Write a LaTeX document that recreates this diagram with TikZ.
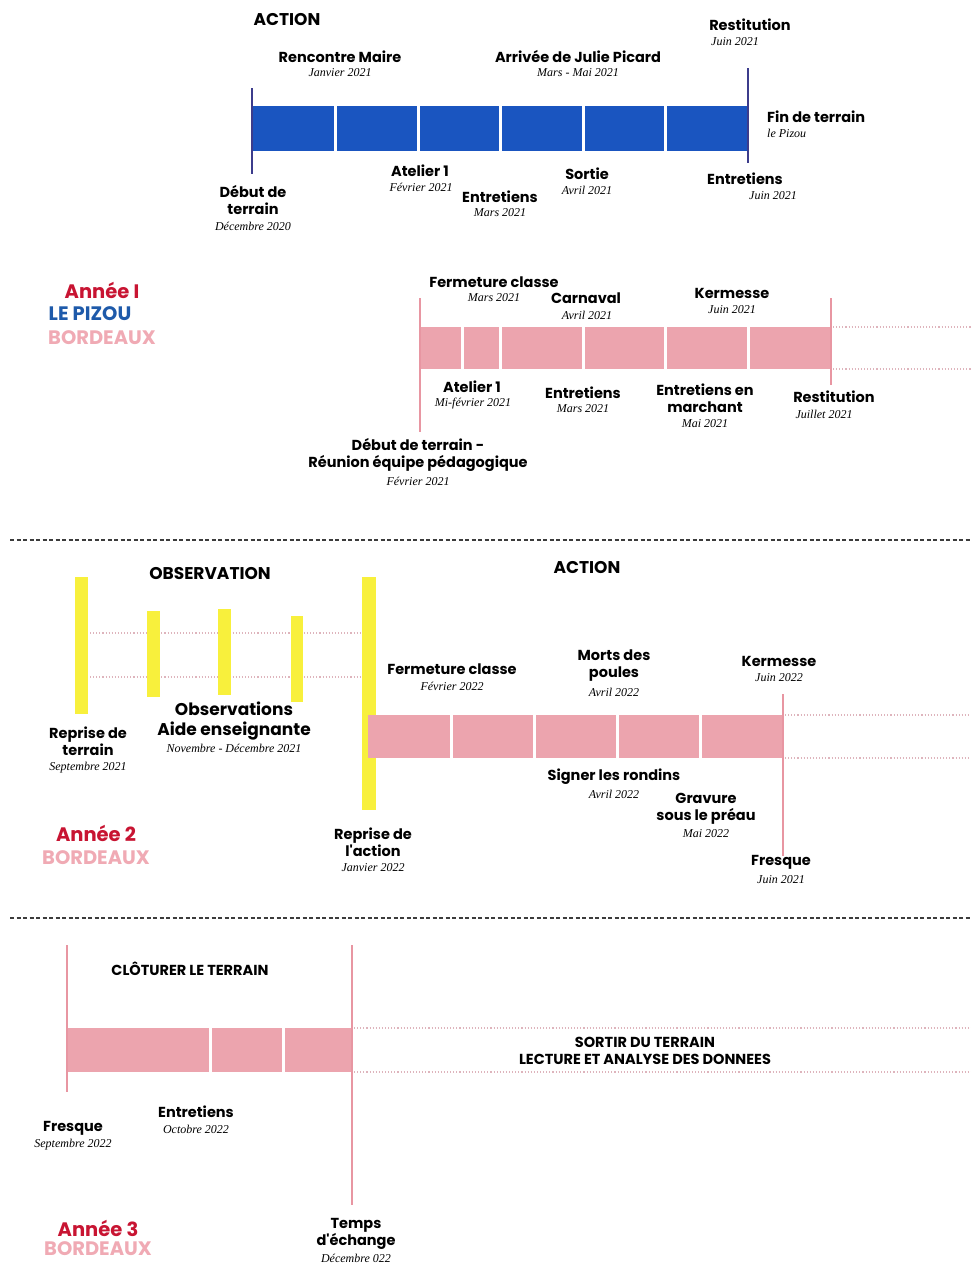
\documentclass[tikz,border=0pt]{standalone}
\usepackage{fontspec}
\newfontfamily\labfont{Poppins}
\newfontfamily\datefont{Liberation Serif}
\definecolor{blueBar}{RGB}{26,85,192}
\definecolor{blueLine}{RGB}{60,60,140}
\definecolor{pinkBar}{RGB}{236,164,174}
\definecolor{pinkLine}{RGB}{232,150,162}
\definecolor{yel}{RGB}{248,240,60}
\definecolor{anred}{RGB}{200,20,50}
\definecolor{pizou}{RGB}{30,90,170}
\definecolor{bdx}{RGB}{240,170,180}
\definecolor{dotc}{RGB}{222,180,188}
\definecolor{sep}{RGB}{60,60,60}
\tikzset{
  lab/.style={font=\labfont\bfseries\fontsize{14.5}{17}\selectfont, inner sep=0pt, align=center},
  head/.style={font=\labfont\bfseries\fontsize{17}{19}\selectfont, inner sep=0pt},
  capstext/.style={font=\labfont\bfseries\fontsize{14.5}{17}\selectfont, inner sep=0pt, align=center},
  dt/.style={font=\datefont\itshape\fontsize{12}{14}\selectfont, inner sep=0pt},
  yr/.style={font=\labfont\bfseries\fontsize{19.5}{22}\selectfont, inner sep=0pt},
  divider/.style={white, line width=3pt},
  dotline/.style={dotc, dotted, line width=1.1pt},
  sepline/.style={sep, dash pattern=on 4pt off 2.5pt, line width=1.5pt},
  tick/.style={line width=1.2pt},
  ybar/.style={fill=yel, draw=none}
}
\begin{document}
\begin{tikzpicture}[x=1pt,y=-1pt]
\useasboundingbox[fill=white] (0,0) rectangle (971,1266);

% ---------------- Section 1 : Le Pizou (blue) ----------------
\fill[blueBar] (252,106) rectangle (748,151);
\foreach \x in {335,418,500,583,665} \draw[divider] (\x,106) -- (\x,151);
\draw[tick, blueLine] (252,88) -- (252,174);
\draw[tick, blueLine] (748,68) -- (748,163);

\node[head] (act1) at (287,20) {ACTION};
\node[lab] (rm) at (340,57) {Rencontre Maire};
\node[dt] (rmd) at (340,73) {Janvier 2021};
\node[lab] (jp) at (578,57) {Arrivée de Julie Picard};
\node[dt] (jpd) at (578,73) {Mars - Mai 2021};
\node[lab] (rest1) at (750,25) {Restitution};
\node[dt] (rest1d) at (735,42) {Juin 2021};
\node[lab, anchor=west] (fin) at (767,117) {Fin de terrain};
\node[dt, anchor=west] (find) at (767,133) {le Pizou};
\node[lab] (at1) at (420,171) {Atelier 1};
\node[dt] (at1d) at (421,187) {Février 2021};
\node[lab] (ent1) at (500,197) {Entretiens};
\node[dt] (ent1d) at (500,213) {Mars 2021};
\node[lab] (sor) at (587,174) {Sortie};
\node[dt] (sord) at (587,190) {Avril 2021};
\node[lab] (ent2) at (745,179) {Entretiens};
\node[dt] (ent2d) at (773,196) {Juin 2021};
\node[lab] (deb1) at (253,200.5) {Début de\\terrain};
\node[dt] (deb1d) at (253,226) {Décembre 2020};

% ---------------- Section 2 : Année I ----------------
\node[yr, text=anred] (an1) at (102,290) {Année I};
\node[yr, text=pizou] (piz) at (90,314) {LE PIZOU};
\node[yr, text=bdx] (bdx1) at (102,338) {BORDEAUX};

\fill[pinkBar] (420,327) rectangle (831,369);
\foreach \x in {462,500,583,665,748} \draw[divider] (\x,327) -- (\x,369);
\draw[tick, pinkLine] (420,298) -- (420,432);
\draw[tick, pinkLine] (831,298) -- (831,385);
\draw[dotline] (833,327) -- (971,327);
\draw[dotline] (833,369) -- (971,369);

\node[lab] (fc1) at (494,282) {Fermeture classe};
\node[dt] (fc1d) at (494,298) {Mars 2021};
\node[lab] (carn) at (586,298) {Carnaval};
\node[dt] (carnd) at (587,315) {Avril 2021};
\node[lab] (ker1) at (732,293) {Kermesse};
\node[dt] (ker1d) at (732,310) {Juin 2021};
\node[lab] (at2) at (472,387) {Atelier 1};
\node[dt] (at2d) at (473,404) {Mi-février 2021};
\node[lab] (ent3) at (583,393) {Entretiens};
\node[dt] (ent3d) at (583,409) {Mars 2021};
\node[lab] (entm) at (705,398.5) {Entretiens en\\marchant};
\node[dt] (entmd) at (705,424) {Mai 2021};
\node[lab] (rest2) at (834,397) {Restitution};
\node[dt] (rest2d) at (824,414) {Juillet 2021};
\node[lab] (deb2) at (418,455) {Début de terrain -\\Réunion équipe pédagogique};
\node[dt] (deb2d) at (418,481) {Février 2021};

\draw[sepline] (10,540) -- (971,540);

% ---------------- Section 3 : Année 2 ----------------
\draw[dotline] (90,633) -- (370,633);
\draw[dotline] (90,677) -- (370,677);
\fill[ybar] (75,577) rectangle (88,714);
\fill[ybar] (147,611) rectangle (160,697);
\fill[ybar] (218,609) rectangle (231,695);
\fill[ybar] (291,616) rectangle (303,702);
\fill[ybar] (362,577) rectangle (376,810);

\fill[pinkBar] (368,715) rectangle (783,758);
\foreach \x in {451,534,617,700} \draw[divider] (\x,715) -- (\x,758);
\draw[tick, pinkLine] (783,694) -- (783,856);
\draw[dotline] (785,715) -- (971,715);
\draw[dotline] (785,758) -- (971,758);

\node[head] (obs) at (210,574) {OBSERVATION};
\node[head] (act2) at (587,568) {ACTION};
\node[lab] (fc2) at (452,669) {Fermeture classe};
\node[dt] (fc2d) at (452,686) {Février 2022};
\node[lab] (morts) at (614,666) {Morts des\\poules};
\node[dt] (mortsd) at (614,692) {Avril 2022};
\node[lab] (ker2) at (779,661) {Kermesse};
\node[dt] (ker2d) at (779,678) {Juin 2022};
\node[lab] (rep1) at (88,741.5) {Reprise de\\terrain};
\node[dt] (rep1d) at (88,768) {Septembre 2021};
\node[lab, font=\labfont\bfseries\fontsize{17}{20}\selectfont] (obs2) at (234,721) {Observations\\Aide enseignante};
\node[dt] (obs2d) at (234,748) {Novembre - Décembre 2021};
\node[lab] (sign) at (614,777) {Signer les rondins};
\node[dt] (signd) at (614,794) {Avril 2022};
\node[lab] (grav) at (706,808.5) {Gravure\\sous le préau};
\node[dt] (gravd) at (706,834) {Mai 2022};
\node[lab] (fres1) at (781,862) {Fresque};
\node[dt] (fres1d) at (781,880) {Juin 2021};
\node[lab] (rep2) at (373,842) {Reprise de\\l'action};
\node[dt] (rep2d) at (373,868) {Janvier 2022};
\node[yr, text=anred] (an2) at (96,833) {Année 2};
\node[yr, text=bdx] (bdx2) at (96,858) {BORDEAUX};

\draw[sepline] (10,918) -- (971,918);

% ---------------- Section 4 : Année 3 ----------------
\fill[pinkBar] (67,1028) rectangle (352,1072);
\foreach \x in {210,283} \draw[divider] (\x,1028) -- (\x,1072);
\draw[tick, pinkLine] (67,945) -- (67,1092);
\draw[tick, pinkLine] (352,945) -- (352,1205);
\draw[dotline] (354,1028) -- (971,1028);
\draw[dotline] (354,1072) -- (971,1072);

\node[capstext] (clot) at (190,969) {CLÔTURER LE TERRAIN};
\node[capstext] (sortir) at (645,1050.5) {SORTIR DU TERRAIN\\LECTURE ET ANALYSE DES DONNEES};
\node[lab] (fres2) at (73,1128) {Fresque};
\node[dt] (fres2d) at (73,1145) {Septembre 2022};
\node[lab] (ent4) at (196,1112) {Entretiens};
\node[dt] (ent4d) at (196,1129) {Octobre 2022};
\node[lab] (temps) at (356,1234) {Temps\\d'échange};
\node[dt] (tempsd) at (356,1258) {Décembre 022};
\node[yr, text=anred] (an3) at (98,1228) {Année 3};
\node[yr, text=bdx] (bdx3) at (98,1249) {BORDEAUX};
\end{tikzpicture}
\end{document}
